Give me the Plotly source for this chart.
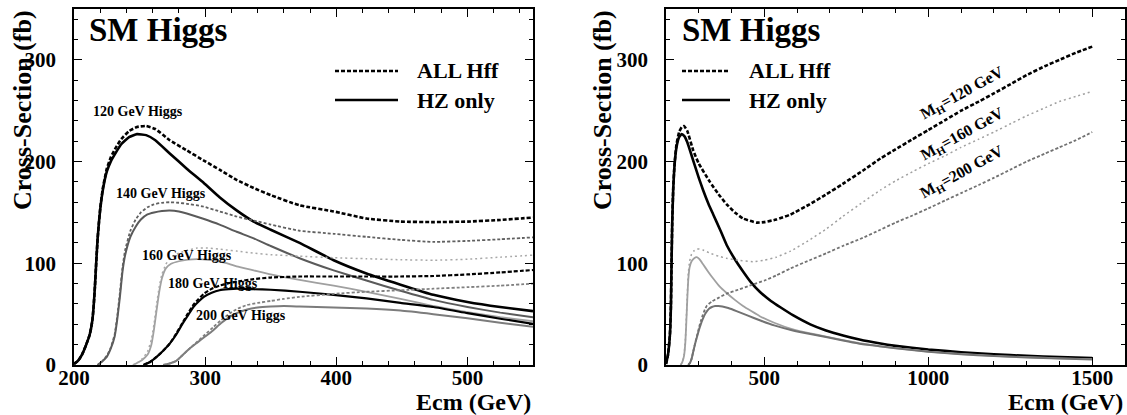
import plotly.graph_objects as go

# ---------------- data (left panel: 200-550 GeV) ----------------
E120L = [200, 203, 206, 209, 212, 214, 215, 216, 217, 218, 219, 220, 222, 225, 228, 232, 236, 242, 248, 255,
         262, 273, 286, 299, 311, 324, 337, 350, 372, 398, 423, 449, 474, 500, 525, 550]
HZ120L = [1, 4, 10, 19, 30, 44, 58, 78, 102, 124, 140, 153, 172, 190, 200, 209, 217, 224, 227, 226,
          221, 208, 193, 179, 165, 152, 141, 133, 120, 103, 90, 79, 69, 62, 57, 53]
ALL120L = [1, 4, 10, 19, 30, 44, 58, 78, 102, 124, 140, 154, 174, 193, 204, 214, 222, 230, 234, 235,
           232, 221, 211, 201, 192, 182, 174, 167, 157, 151, 144, 141, 140.5, 141, 142.6, 145]

E140L = [218, 221, 225, 228, 231, 233, 235, 237, 239, 243, 247, 251, 256, 261, 267, 273, 280, 286, 298, 311,
         324, 337, 350, 372, 398, 423, 449, 474, 500, 525, 550]
HZ140L = [0, 3, 8, 16, 28, 45, 67, 92, 108, 126, 136, 143, 148, 150, 151.5, 152, 151, 149, 144, 138,
          131, 124.5, 117, 105, 93, 83, 73, 64, 57, 51.5, 47]
ALL140L = [0, 3, 9, 17, 30, 48, 71, 96, 113, 132, 143, 150, 155, 158, 159.5, 160, 159.5, 158.5, 156, 151,
           146, 142, 138, 132, 129, 126, 123, 121, 122, 123.6, 125.5]

E160L = [245, 248, 252, 256, 259, 261, 263, 265, 267, 270, 274, 280, 287, 294, 302, 310, 317, 324, 337, 350,
         372, 398, 423, 449, 474, 500, 525, 550]
HZ160L = [0, 2, 5, 10, 20, 35, 54, 72, 85, 95, 99.5, 102, 103.5, 104, 103.5, 102, 100, 97, 93, 89,
          83.6, 78, 72, 65, 58, 52, 47, 43]
ALL160L = [0, 2, 6, 13, 25, 40, 60, 77, 89, 99, 106, 110, 113, 115, 115, 114, 113, 112, 110, 108.5,
           107, 105.5, 104.5, 103.5, 103, 104, 106, 108]

E180L = [253, 258, 263, 268, 273, 278, 283, 287, 291, 295, 299, 305, 311, 318, 324, 337, 350, 372, 398, 423,
         449, 474, 500, 525, 550]
HZ180L = [0, 3, 8, 14, 21, 30, 41, 49, 57, 62.5, 67, 71, 73.5, 74.5, 75, 74.5, 74, 72, 69, 65.5,
          61, 57, 51, 45.5, 40.5]
ALL180L = [0, 3, 8, 14, 21, 31, 42, 51, 59, 65, 70, 75, 78, 80.5, 82, 84.5, 86, 87, 87, 87,
           87, 87.5, 89, 91, 93.4]

E200L = [268, 273, 278, 283, 288, 294, 300, 306, 312, 319, 325, 332, 340, 350, 360, 372, 398, 423, 449, 474,
         500, 525, 550]
HZ200L = [0, 1.5, 4, 10, 16, 22, 28, 34, 41, 47.5, 51.5, 54.5, 56.5, 57.5, 58, 57.5, 56.5, 55.5, 53.5, 50,
          46, 41.5, 37.5]
ALL200L = [0, 1.5, 4, 10, 16, 23, 30, 37, 44, 51, 55.5, 59, 61, 63, 65, 67, 70, 72, 73.5, 75,
           76.5, 78, 80]

# ---------------- data (right panel: 200-1500 GeV) ----------------
E120R = [200, 206, 212, 215, 217, 219, 222, 226, 232, 240, 248, 256, 265, 283, 300, 313, 330, 344, 365, 385,
         410, 435, 460, 486, 520, 550, 587, 640, 688, 740, 790, 850, 900, 1000, 1100, 1200, 1300, 1400, 1500]
HZ120R = [1, 10, 30, 58, 102, 140, 172, 196, 214, 224, 227, 225, 219, 201, 184, 172, 158, 148, 133, 118,
          104, 92, 81, 72, 63, 56.5, 49, 40, 34, 29, 25, 21.3, 18.8, 15.2, 12.6, 10.6, 9, 7.8, 6.8]
E120RA = [200, 206, 212, 215, 217, 219, 222, 226, 232, 240, 248, 255, 265, 283, 300, 334, 360, 385, 410, 435,
          476, 500, 536, 580, 638, 690, 739, 800, 854, 900, 952, 1000, 1053, 1100, 1154, 1200, 1256, 1300,
          1357, 1400, 1450, 1500]
ALL120R = [1, 10, 30, 58, 102, 140, 174, 197, 217, 229, 234, 235, 230, 211, 198, 180, 168, 158, 150, 144,
           140, 140.5, 143, 148, 158, 168, 178, 191, 203, 212, 222, 231, 241, 250, 259, 267, 277, 285,
           294, 300, 307, 313]

E160R = [245, 250, 255, 259, 262, 265, 268, 272, 278, 286, 294, 302, 313, 328, 344, 364, 384, 410, 435, 460,
         486, 530, 587, 640, 688, 740, 790, 850, 900, 1000, 1100, 1200, 1300, 1400, 1500]
HZ160R = [0, 3, 9, 22, 42, 65, 84, 96, 102, 105, 106, 104, 99, 92, 85, 77, 71, 64, 58, 53,
          48, 41.5, 35, 31, 28, 24.5, 21.5, 18.5, 16.5, 13.2, 10.8, 9, 7.7, 6.6, 5.8]
E160RA = [245, 250, 255, 259, 262, 265, 268, 272, 278, 286, 294, 302, 313, 334, 360, 384, 420, 465, 500, 536,
          580, 638, 690, 739, 800, 854, 900, 952, 1000, 1053, 1100, 1154, 1200, 1256, 1300, 1357, 1400,
          1450, 1500]
ALL160R = [0, 3, 10, 24, 46, 70, 90, 102, 109, 112.5, 114, 114, 113, 110, 107, 105, 103, 101.6, 103, 106,
           112, 123, 134, 146, 160, 172, 181, 190, 198, 206, 214, 222, 229, 238, 245, 253, 259, 264, 269]

E200R = [268, 273, 278, 283, 288, 294, 300, 306, 312, 319, 325, 332, 340, 350, 360, 372, 390, 415, 450, 486,
         530, 587, 640, 688, 740, 790, 850, 900, 1000, 1100, 1200, 1300, 1400, 1500]
HZ200R = [0, 2, 6, 13, 20, 27, 34, 40, 45, 50, 53, 55.5, 57, 58, 58, 57.5, 56, 53, 48.5, 44,
          39, 34, 30.5, 27.5, 24, 21, 18.5, 16.5, 13, 10.6, 8.8, 7.4, 6.3, 5.4]
E200RA = [268, 273, 278, 283, 288, 294, 300, 306, 312, 319, 325, 340, 360, 384, 420, 455, 500, 536, 580, 638,
          690, 739, 800, 854, 900, 952, 1000, 1053, 1100, 1154, 1200, 1256, 1300, 1357, 1400, 1450, 1500]
ALL200R = [0, 2, 6, 13, 20, 28, 36, 43, 49, 55, 58.5, 62.5, 66, 70, 74, 78, 83, 88, 95, 103,
           110, 117, 125, 133, 140, 147, 154, 162, 169, 177, 184, 193, 200, 208, 214, 221, 229]

LEFT_LABELS = ["120 GeV Higgs", "140 GeV Higgs", "160 GeV Higgs", "180 GeV Higgs", "200 GeV Higgs"]
RIGHT_LABELS = ["M<sub>H</sub>=120 GeV", "M<sub>H</sub>=160 GeV", "M<sub>H</sub>=200 GeV"]
LEGEND_TEXT = ["ALL Hff", "HZ only"]

# ---------------- styling ----------------
FONT = "Liberation Serif, Times New Roman, Times, serif"
W, H = 1127, 415
def fx(p): return p / W
def fy(p): return 1 - p / H

STY = {
    120: ("#000000", 2.6, "#000000", 2.6, "4px,2px"),
    140: ("#5a5a5a", 2.0, "#606060", 1.8, "3px,2px"),
    160: ("#a0a0a0", 1.8, "#a8a8a8", 1.5, "2px,3px"),
    180: ("#000000", 2.2, "#000000", 2.2, "4px,2px"),
    200: ("#7c7c7c", 2.0, "#808080", 1.8, "3px,2px"),
}
RCOL = {120: "#000000", 160: "#a0a0a0", 200: "#727272"}

fig = go.Figure()

def add(x, y, color, width, dash, xa, ya):
    fig.add_trace(go.Scatter(x=x, y=y, mode="lines", xaxis=xa, yaxis=ya,
                             line=dict(color=color, width=width, dash=dash, shape="spline", smoothing=0.4),
                             hoverinfo="skip", showlegend=False))

left_sets = [(120, E120L, HZ120L, E120L, ALL120L), (140, E140L, HZ140L, E140L, ALL140L),
             (160, E160L, HZ160L, E160L, ALL160L), (180, E180L, HZ180L, E180L, ALL180L),
             (200, E200L, HZ200L, E200L, ALL200L)]
right_sets = [(120, E120R, HZ120R, E120RA, ALL120R), (160, E160R, HZ160R, E160RA, ALL160R),
              (200, E200R, HZ200R, E200RA, ALL200R)]

for m, ex, hz, ea, al in left_sets:
    cs, ws, cd, wd, dd = STY[m]
    add(ex, hz, cs, ws, "solid", "x", "y")
    add(ea, al, cd, wd, dd, "x", "y")
for m, ex, hz, ea, al in right_sets:
    cs, ws, cd, wd, dd = STY[m]
    add(ex, hz, RCOL[m], ws, "solid", "x2", "y2")
    add(ea, al, RCOL[m], wd, dd, "x2", "y2")

tickfont = dict(family=FONT, size=21, color="black", weight="bold")
def axis(dom, rng, dt, mdt, anchor, standoff):
    return dict(domain=dom, range=rng, dtick=dt, tick0=0, anchor=anchor, automargin=False,
                showline=True, linecolor="black", linewidth=1.6, mirror="ticks",
                ticks="inside", ticklen=8, tickwidth=1.2, tickcolor="black",
                showgrid=False, zeroline=False, tickfont=tickfont, ticklabelstandoff=standoff,
                minor=dict(ticks="inside", ticklen=4, tickwidth=1, tickcolor="black", dtick=mdt,
                           showgrid=False))

ydom = [fy(365), fy(9)]
fig.update_layout(
    template="none",
    width=W, height=H, margin=dict(l=0, r=0, t=0, b=0, pad=0),
    paper_bgcolor="white", plot_bgcolor="white", showlegend=False,
    xaxis=axis([fx(74), fx(533)], [200, 550], 100, 20, "y", -7),
    yaxis=axis(ydom, [0, 350], 100, 20, "x", 12),
    xaxis2=axis([fx(666), fx(1125)], [200, 1600], 500, 100, "y2", -7),
    yaxis2=axis(ydom, [0, 350], 100, 20, "x2", 12),
)

ann = []
def txt(text, x, y, size, xref="paper", yref="paper", xanchor="center", yanchor="middle", angle=0):
    ann.append(dict(text=text, x=x, y=y, xref=xref, yref=yref, showarrow=False,
                    xanchor=xanchor, yanchor=yanchor, textangle=angle,
                    font=dict(family=FONT, size=size, color="black", weight="bold")))

for xc in (23, 603):
    txt("Cross-Section (fb)", fx(xc), fy(110), 26, angle=-90)
for xr in (533, 1125):
    txt("Ecm (GeV)", fx(xr), fy(402), 24, xanchor="right")
for xl in (87, 680):
    txt("SM Higgs", fx(xl), fy(30), 33, xanchor="left")

# curve labels
for lab, (ex, ey) in zip(LEFT_LABELS, [(249, 249), (266, 169), (286, 108), (306, 80), (327, 49)]):
    txt(lab, ex, ey, 14, xref="x", yref="y")
for lab, ey in zip(RIGHT_LABELS, [267, 227, 189]):
    txt(lab, 1103, ey, 16, xref="x2", yref="y2", angle=-29)

# legends
shapes = []
for (x0, x1, xt) in ((335, 398, 415), (682, 730, 747)):
    shapes.append(dict(type="line", xref="paper", yref="paper", x0=fx(x0), x1=fx(x1), y0=fy(71), y1=fy(71),
                       line=dict(color="black", width=2.5, dash="4px,2px")))
    shapes.append(dict(type="line", xref="paper", yref="paper", x0=fx(x0), x1=fx(x1), y0=fy(100), y1=fy(100),
                       line=dict(color="black", width=2.5)))
    txt(LEGEND_TEXT[0], fx(xt), fy(71), 22, xanchor="left")
    txt(LEGEND_TEXT[1], fx(xt), fy(101), 22, xanchor="left")

fig.update_layout(annotations=ann, shapes=shapes)
fig.write_html("out.html", config={"displayModeBar": False},
               post_script="document.body.style.margin='0';document.body.style.overflow='hidden';")
